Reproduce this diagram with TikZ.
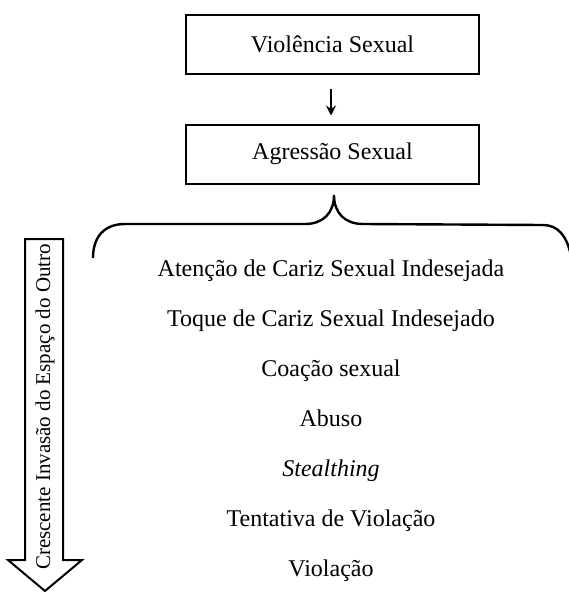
\documentclass[tikz,border=0pt]{standalone}
\usepackage{fontspec}
\setmainfont{Liberation Serif}
\usetikzlibrary{arrows.meta}
\begin{document}
\begin{tikzpicture}[x=1pt,y=-1pt,
  boxnode/.style={draw,line width=2pt,minimum width=293pt,minimum height=59pt,inner sep=0pt,font=\fontsize{24}{28}\selectfont},
  itemnode/.style={font=\fontsize{24}{28}\selectfont,inner sep=0pt,anchor=base},
  thick line/.style={line width=2.4pt}]
\useasboundingbox (0,0) rectangle (569,592);
\node[boxnode] (vs) at (332.5,44.5) {Violência Sexual};
\node[boxnode] (as) at (332.5,154) {Agressão Sexual};
\draw[line width=2pt,-{Stealth[length=10pt,width=10pt]},shorten <=14pt,shorten >=8pt] (vs.south -| 331,0) -- (as.north -| 331,0);
% brace
\coordinate (bl) at (93,258);
\coordinate (btip) at (334,195);
\coordinate (br) at (571,256);
\draw[thick line] (bl) .. controls (93,236) and (105,224) .. (125,224) -- (305,224)
  .. controls (323,224) and (334,213) .. (btip)
  .. controls (334,213) and (345,224) .. (363,224) -- (543,225)
  .. controls (558,225) and (567,236) .. (br);
% list
\node[itemnode] (i1) at (331,276) {Atenção de Cariz Sexual Indesejada};
\node[itemnode] (i2) at (331,326) {Toque de Cariz Sexual Indesejado};
\node[itemnode] (i3) at (331,376) {Coação sexual};
\node[itemnode] (i4) at (331,426) {Abuso};
\node[itemnode] (i5) at (331,476) {\itshape Stealthing};
\node[itemnode] (i6) at (331,526) {Tentativa de Violação};
\node[itemnode] (i7) at (331,576) {Violação};
% big arrow
\draw[line width=2pt,line join=miter] (25,239) -- (63,239) -- (63,560) -- (82,560) -- (45,591) -- (8,560) -- (25,560) -- cycle;
\node[rotate=90,font=\fontsize{21}{25}\selectfont,inner sep=0pt] (lab) at (45,407) {Crescente Invasão do Espaço do Outro};
\end{tikzpicture}
\end{document}
